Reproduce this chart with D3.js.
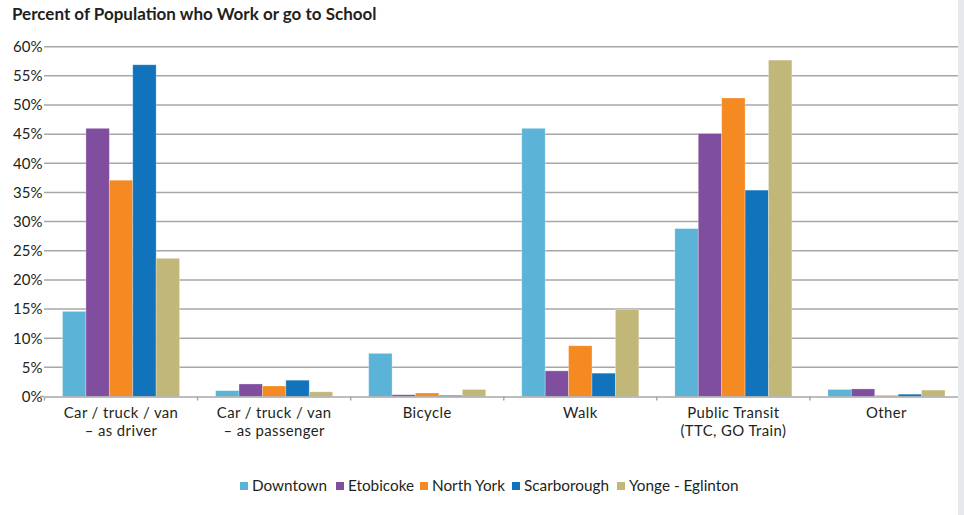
<!DOCTYPE html>
<html>
<head>
<meta charset="utf-8">
<script src="https://cdn.jsdelivr.net/npm/d3@7"></script>
<style>
  body { margin: 0; background: #fff; }
  svg { display: block; font-family: Lato, "Open Sans", sans-serif; }
</style>
</head>
<body>
<div id="chart"></div>
<script>
// categories, two-line labels split on '|'
const categories = ['Car / truck / van|– as driver', 'Car / truck / van|– as passenger', 'Bicycle', 'Walk', 'Public Transit|(TTC, GO Train)', 'Other'];
const seriesNames = ['Downtown', 'Etobicoke', 'North York', 'Scarborough', 'Yonge - Eglinton'];
const downtown = [14.6, 1.0, 7.4, 46.0, 28.8, 1.2];
const etobicoke = [46.0, 2.15, 0.3, 4.4, 45.1, 1.3];
const northYork = [37.1, 1.8, 0.6, 8.7, 51.2, 0.2];
const scarborough = [56.9, 2.8, 0.2, 4.0, 35.4, 0.4];
const yongeEglinton = [23.7, 0.8, 1.2, 14.9, 57.7, 1.1];
const yTicks = [0, 5, 10, 15, 20, 25, 30, 35, 40, 45, 50, 55, 60];

const seriesValues = [downtown, etobicoke, northYork, scarborough, yongeEglinton];
const colors = ['#5bb3d7', '#7f4e9e', '#f58a22', '#1173bb', '#c1b779'];

const width = 964, height = 515;
const svg = d3.select('#chart').append('svg').attr('width', width).attr('height', height);

// title
svg.append('text')
    .attr('x', 12).attr('y', 20)
    .style('font-size', '17px').style('font-weight', 'bold').style('fill', '#231f20')
    .text('Percent of Population who Work or go to School');

const scaleX = d3.scaleBand().domain(categories).range([44.5, 963]).padding(0);
const scaleInner = d3.scaleBand().domain(seriesNames).range([0, scaleX.bandwidth()]).paddingOuter(0.77).paddingInner(0);
const scaleY = d3.scaleLinear().domain([0, 60]).range([396.5, 46.7]);
const color = d3.scaleOrdinal().domain(seriesNames).range(colors);

// gridlines
svg.append('g').selectAll('line')
    .data(yTicks.filter(t => t > 0))
    .enter().append('line')
    .attr('x1', 44).attr('x2', 963)
    .attr('y1', d => scaleY(d)).attr('y2', d => scaleY(d))
    .attr('stroke', '#a7a7a7').attr('stroke-width', 1.5);

// y axis labels
const yAxis = svg.append('g').attr('transform', 'translate(44,0)')
    .call(d3.axisLeft(scaleY).tickValues(yTicks).tickSize(0).tickPadding(1.5).tickFormat(d => d + '%'));
yAxis.select('.domain').remove();
yAxis.selectAll('text').style('font-size', '15px').style('fill', '#231f20').style('font-family', 'Lato, sans-serif');
svg.append('line').attr('x1', 40).attr('x2', 44).attr('y1', scaleY(0)).attr('y2', scaleY(0))
    .attr('stroke', '#a7a7a7').attr('stroke-width', 1.5);

// bars
const rows = categories.map((c, i) => ({ cat: c, vals: seriesNames.map((s, j) => ({ name: s, value: seriesValues[j][i] })) }));
svg.append('g').selectAll('g')
    .data(rows)
    .enter().append('g')
    .attr('transform', d => 'translate(' + scaleX(d.cat) + ',0)')
    .selectAll('rect')
    .data(d => d.vals)
    .enter().append('rect')
    .attr('x', d => scaleInner(d.name))
    .attr('width', scaleInner.bandwidth())
    .attr('y', d => scaleY(d.value))
    .attr('height', d => scaleY(0) - scaleY(d.value))
    .attr('fill', d => color(d.name))
    .attr('stroke', 'rgba(255,255,255,0.35)').attr('stroke-width', 0.8);

// x axis
const xAxis = svg.append('g').attr('transform', 'translate(0,' + scaleY(0) + ')')
    .call(d3.axisBottom(scaleX).tickSize(0).tickFormat(''));
xAxis.select('.domain').attr('stroke', '#a7a7a7').attr('stroke-width', 1.5);
// category boundary ticks
svg.append('g').selectAll('line')
    .data(categories)
    .enter().append('line')
    .attr('x1', d => scaleX(d)).attr('x2', d => scaleX(d))
    .attr('y1', scaleY(0)).attr('y2', scaleY(0) + 4)
    .attr('stroke', '#a7a7a7').attr('stroke-width', 1.5);

// category labels, one text per line
const labelLines = [];
categories.forEach(c => c.split('|').forEach((p, i) => labelLines.push({ cat: c, text: p, line: i })));
svg.append('g').selectAll('text')
    .data(labelLines)
    .enter().append('text')
    .attr('x', d => scaleX(d.cat) + scaleX.bandwidth() / 2)
    .attr('y', d => 418 + d.line * 18)
    .attr('text-anchor', 'middle')
    .style('font-size', '14.9px').style('letter-spacing', '0.4px').style('fill', '#231f20')
    .text(d => d.text);

// legend
const legendX = [240, 336, 420, 512, 617];
const legend = svg.append('g').selectAll('g')
    .data(seriesNames)
    .enter().append('g')
    .attr('transform', (d, i) => 'translate(' + legendX[i] + ',481)');
legend.append('rect').attr('width', 8).attr('height', 8).attr('y', 1).attr('fill', d => color(d));
legend.append('text').attr('x', 12).attr('y', 9.5)
    .style('font-size', '15.3px').style('fill', '#231f20')
    .text(d => d);

// right border strip
svg.append('rect').attr('x', 958).attr('y', 0).attr('width', 6).attr('height', height).attr('fill', '#e6e8eb');
</script>
</body>
</html>
